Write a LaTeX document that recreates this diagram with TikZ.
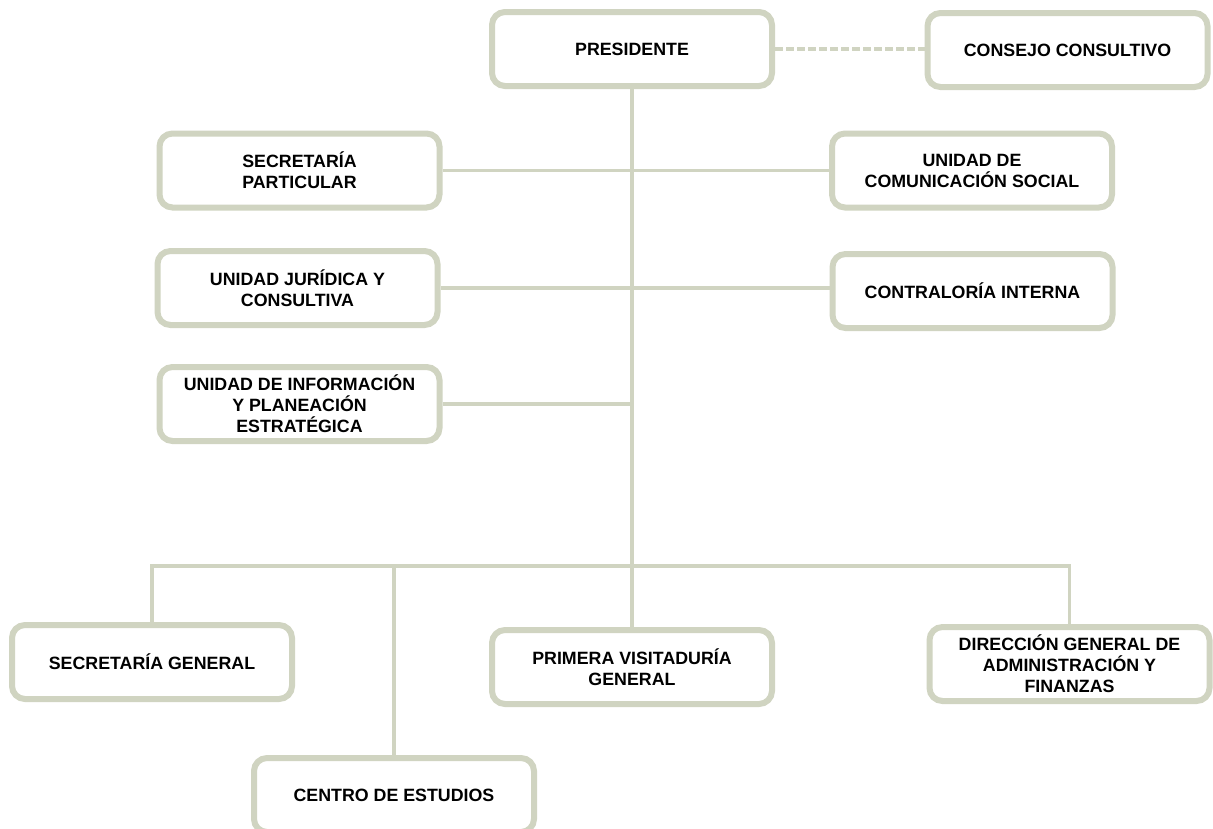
\documentclass[tikz,border=0pt]{standalone}
\usepackage{fontspec}
\setmainfont{Liberation Sans}
\usetikzlibrary{backgrounds}
\definecolor{boxline}{RGB}{208,212,193}
\tikzset{
  unit/.style={draw=boxline, line width=6pt, rounded corners=13pt, fill=white,
    minimum width=280pt, minimum height=74pt, inner sep=0pt, align=center,
    font=\fontsize{17.8}{21}\selectfont\bfseries},
  link/.style={draw=boxline, line width=3.2pt},
  dlink/.style={draw=boxline, line width=3.5pt, dash pattern=on 8pt off 3pt}
}
\begin{document}
\begin{tikzpicture}[x=1pt,y=-1pt]
\useasboundingbox (0,0) rectangle (1213,828);
\begin{scope}
\clip (0,0) rectangle (1213,828);
% nodes
\node[unit] (pres) at (632,49) {PRESIDENTE};
\node[unit] (cons) at (1067.5,50) {CONSEJO CONSULTIVO};
\node[unit] (secp) at (299.5,170.5) {SECRETARÍA\\PARTICULAR};
\node[unit] (coms) at (972,170.5) {UNIDAD DE\\COMUNICACIÓN SOCIAL};
\node[unit] (ujur) at (297.5,288) {UNIDAD JURÍDICA Y\\CONSULTIVA};
\node[unit] (cont) at (972.5,291) {CONTRALORÍA INTERNA};
\node[unit] (uinf) at (299.5,404) {UNIDAD DE INFORMACIÓN\\Y PLANEACIÓN\\ESTRATÉGICA};
\node[unit] (secg) at (152,662) {SECRETARÍA GENERAL};
\node[unit] (cent) at (394,795) {CENTRO DE ESTUDIOS};
\node[unit] (prim) at (632,667) {PRIMERA VISITADURÍA\\GENERAL};
\node[unit] (dirg) at (1069.5,664) {DIRECCIÓN GENERAL DE\\ADMINISTRACIÓN Y\\FINANZAS};
\coordinate (bus) at (632,566);
% connectors
\begin{scope}[on background layer]
\fill[white] (0,0) rectangle (1213,828);
\draw[dlink] (pres.east) -- (cons.west |- pres.east);
\draw[link] (pres.south) -- (bus);
\draw[link] (secp.east) -- (coms.west);
\draw[link] (ujur.east) -- (cont.west |- ujur.east);
\draw[link] (uinf.east) -- (pres.south |- uinf.east);
\draw[link] (secg.north) -- (secg.north |- bus) -- (dirg.north |- bus) -- (dirg.north);
\draw[link] (cent.north) -- (cent.north |- bus);
\draw[link] (prim.north) -- (bus);
\end{scope}
\end{scope}
\end{tikzpicture}
\end{document}
